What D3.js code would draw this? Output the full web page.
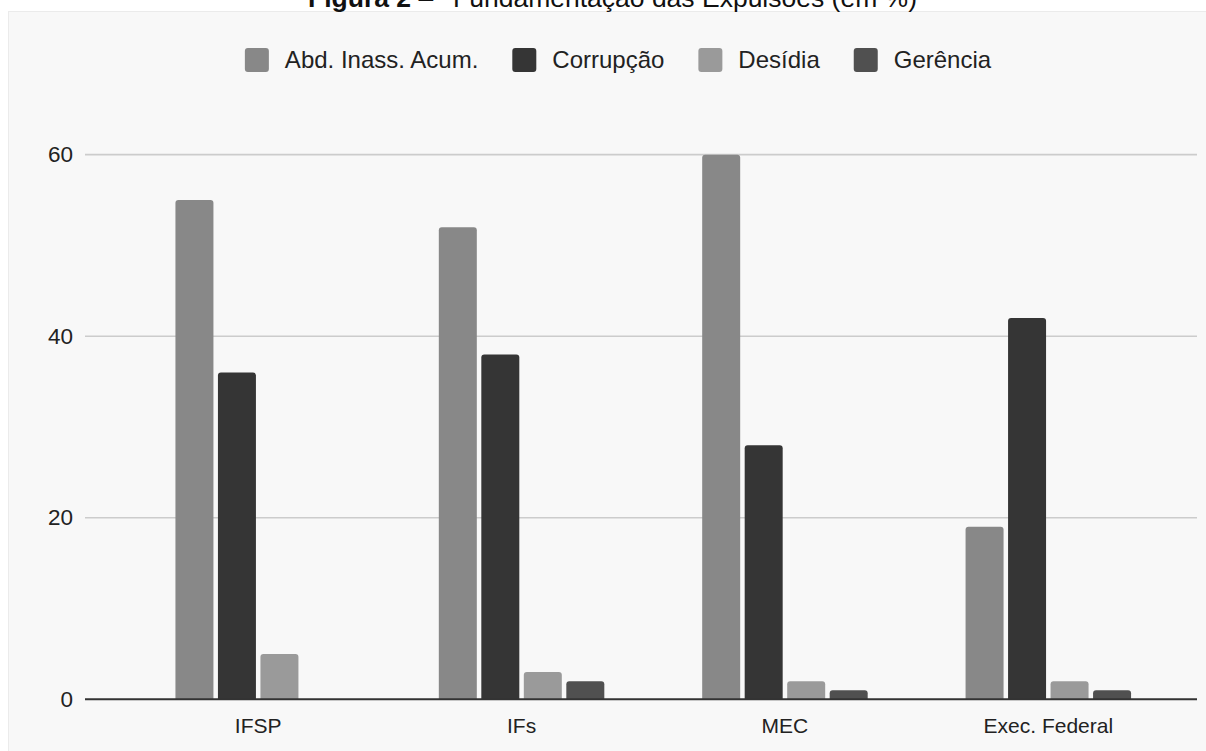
<!DOCTYPE html>
<html>
<head>
<meta charset="utf-8">
<script src="https://cdn.jsdelivr.net/npm/d3@7"></script>
<style>
  html, body { margin: 0; padding: 0; background: #ffffff; }
  svg { display: block; font-family: "Liberation Sans", Arial, sans-serif; }
</style>
</head>
<body>
<svg id="chart" width="1206" height="751"></svg>
<script>
const categories = ["IFSP", "IFs", "MEC", "Exec. Federal"];
const seriesNames = ["Abd. Inass. Acum.", "Corrupção", "Desídia", "Gerência"];
const abdInass = [55, 52, 60, 19];
const corrupcao = [36, 38, 28, 42];
const desidia = [5, 3, 2, 2];
const gerencia = [0, 2, 1, 1];
const yTicks = [0, 20, 40, 60];
const colors = ["#888888", "#353535", "#9a9a9a", "#505050"];

const seriesValues = [abdInass, corrupcao, desidia, gerencia];

const svg = d3.select("#chart");

// panel
svg.append("rect")
  .attr("x", 8.5).attr("y", 11.5)
  .attr("width", 1210).attr("height", 760)
  .attr("fill", "#f8f8f8")
  .attr("stroke", "#ebebeb");

// title (cut at top)
const title = svg.append("text")
  .attr("y", 6.5)
  .attr("font-size", 26.5)
  .attr("fill", "#111");
title.append("tspan").attr("x", 308).attr("font-weight", "bold").text("Figura 2");
title.append("tspan").text(" \u2013");
title.append("tspan").attr("x", 453).text("Fundamentação das Expulsões (em %)");

const y = d3.scaleLinear().domain([0, 60]).range([699.3, 154.7]);
const x0 = d3.scaleBand().domain(categories).range([126.5, 1180]);
const groupW = 165.5;
const x1 = d3.scaleBand().domain(seriesNames).range([0, groupW]).paddingInner(0.106);

// gridlines
svg.append("g")
  .selectAll("line")
  .data(yTicks.filter(t => t !== 0))
  .join("line")
  .attr("x1", 85).attr("x2", 1197)
  .attr("y1", d => y(d)).attr("y2", d => y(d))
  .attr("stroke", "#cccccc")
  .attr("stroke-width", 1.7);

// y labels
const yAxis = d3.axisLeft(y).tickValues(yTicks).tickSize(0).tickPadding(0);
const yg = svg.append("g").attr("transform", "translate(73,0)").call(yAxis);
yg.select(".domain").remove();
yg.selectAll("text")
  .attr("font-size", 22.5)
  .attr("font-family", "Liberation Sans, Arial, sans-serif")
  .attr("fill", "#222");

// bars
function barPath(x, y0, w, h, r) {
  if (h <= 0) return "";
  const rr = Math.min(r, h, w / 2);
  return `M${x},${y0}V${y0 - h + rr}Q${x},${y0 - h} ${x + rr},${y0 - h}H${x + w - rr}Q${x + w},${y0 - h} ${x + w},${y0 - h + rr}V${y0}Z`;
}

const groups = svg.append("g").selectAll("g")
  .data(categories)
  .join("g")
  .attr("transform", d => `translate(${x0(d) + x0.bandwidth() / 2 - groupW / 2},0)`);

groups.selectAll("path")
  .data((d, i) => seriesNames.map((s, j) => ({ s, j, v: seriesValues[j][i] })))
  .join("path")
  .attr("d", d => barPath(x1(d.s), y(0), x1.bandwidth(), y(0) - y(d.v), 3))
  .attr("fill", d => colors[d.j]);

// x axis baseline
svg.append("line")
  .attr("x1", 85).attr("x2", 1197)
  .attr("y1", y(0)).attr("y2", y(0))
  .attr("stroke", "#333")
  .attr("stroke-width", 2);

// x labels
const xAxis = d3.axisBottom(x0).tickSize(0).tickPadding(0);
const xg = svg.append("g").attr("transform", "translate(0,733)").call(xAxis);
xg.select(".domain").remove();
xg.selectAll("text")
  .attr("dy", 0)
  .attr("font-size", 21)
  .attr("font-family", "Liberation Sans, Arial, sans-serif")
  .attr("fill", "#222");

// legend
const legendFont = 24;
const legendGap = 34;
const legend = svg.append("g");
const items = legend.selectAll("g").data(seriesNames).join("g");
items.append("rect")
  .attr("width", 24).attr("height", 24).attr("rx", 3)
  .attr("y", 48)
  .attr("fill", (d, i) => colors[i]);
items.append("text")
  .attr("x", 40).attr("y", 68)
  .attr("font-size", legendFont)
  .attr("fill", "#222")
  .text(d => d);
let cx = 0;
const positions = [];
items.each(function () {
  const w = d3.select(this).select("text").node().getComputedTextLength();
  positions.push(cx);
  cx += 40 + w + legendGap;
});
const total = cx - legendGap;
const startX = 618 - total / 2;
items.attr("transform", (d, i) => `translate(${startX + positions[i]},0)`);
</script>
</body>
</html>
